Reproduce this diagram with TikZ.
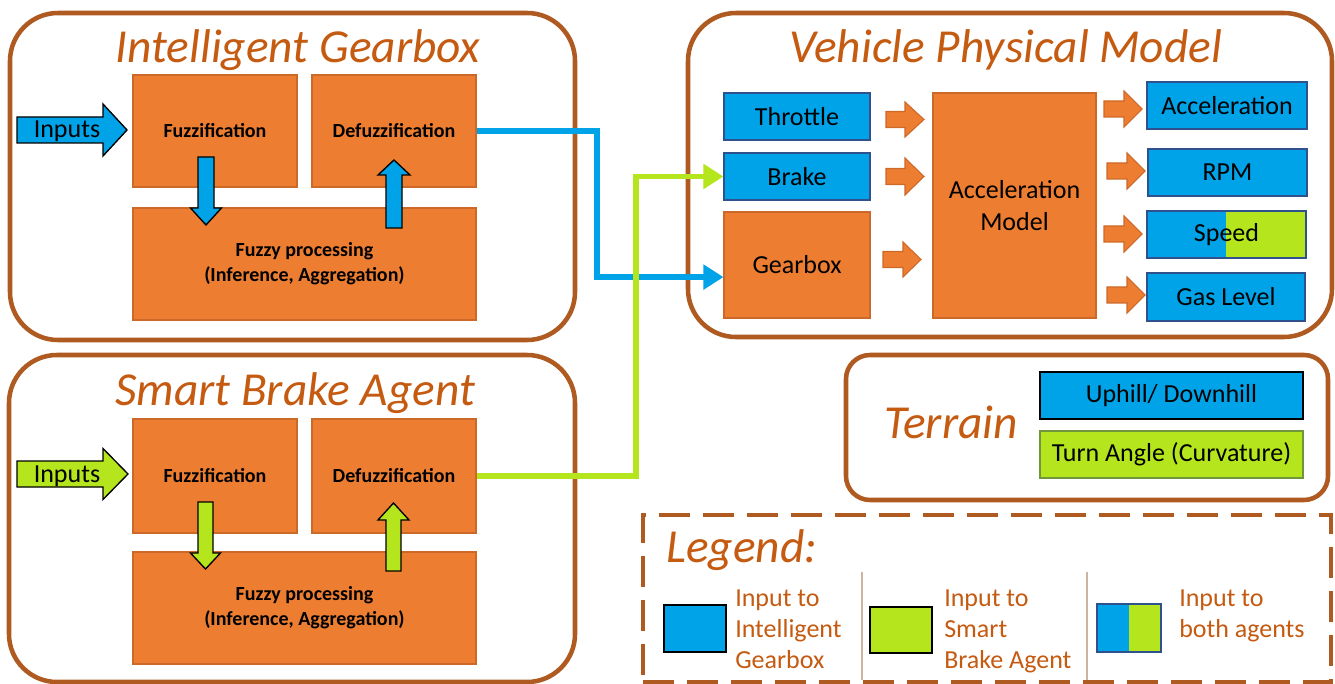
\documentclass[tikz,border=0pt]{standalone}
\usepackage{fontspec}
\setmainfont{Carlito}
\usetikzlibrary{fit,calc,arrows.meta}
\definecolor{orng}{RGB}{237,125,49}
\definecolor{orngdk}{RGB}{205,105,40}
\definecolor{bluec}{RGB}{0,162,232}
\definecolor{bluedk}{RGB}{47,82,143}
\definecolor{greenc}{RGB}{181,230,29}
\definecolor{greendk}{RGB}{112,150,60}
\definecolor{framec}{RGB}{174,90,33}
\definecolor{titlec}{RGB}{197,90,17}
\definecolor{sepc}{RGB}{205,180,160}
% horizontal block arrow: style, x tail, x tip, x head base, y centre, shaft half, head half
\newcommand{\myHArrow}[7]{\draw[#1] ({#2},{#5-#6}) -- ({#4},{#5-#6}) -- ({#4},{#5-#7}) -- ({#3},{#5}) -- ({#4},{#5+#7}) -- ({#4},{#5+#6}) -- ({#2},{#5+#6}) -- cycle;}
% vertical block arrow: style, x centre, y tail, y tip, y head base, shaft half, head half
\newcommand{\myVArrow}[7]{\draw[#1] ({#2-#6},{#3}) -- ({#2-#6},{#5}) -- ({#2-#7},{#5}) -- ({#2},{#4}) -- ({#2+#7},{#5}) -- ({#2+#6},{#5}) -- ({#2+#6},{#3}) -- cycle;}
\begin{document}
\begin{tikzpicture}[x=0.75pt,y=-0.75pt,
 bx/.style n args={4}{minimum width={(#3-#1)*0.75pt},minimum height={(#4-#2)*0.75pt},at={({(#1+#3)/2},{(#2+#4)/2})}},
 frame/.style={draw=framec,line width=3.4pt,rounded corners=36pt,inner sep=0pt},
 tframe/.style={draw=framec,line width=3.4pt,rounded corners=18pt,inner sep=0pt},
 lframe/.style={draw=framec,line width=3.4pt,dash pattern=on 23pt off 10pt,inner sep=0pt},
 ttl/.style={text=titlec,font=\fontsize{35.5}{42}\selectfont\itshape,inner sep=0pt},
 obox/.style={fill=orng,draw=orngdk,line width=0.8pt,inner sep=0pt},
 bbox/.style={fill=bluec,draw=bluedk,line width=0.8pt,inner sep=0pt},
 gbox/.style={fill=greenc,draw=greendk,line width=0.8pt,inner sep=0pt},
 fzt/.style={font=\fontsize{15}{18.75}\selectfont\bfseries,align=center},
 bt/.style={font=\fontsize{19.5}{24}\selectfont,align=center},
 lgt/.style={text=titlec,font=\fontsize{19.5}{23.25}\selectfont,align=left,inner sep=0pt,anchor=north west},
 oarr/.style={fill=orng,draw=orngdk,line width=0.8pt},
 barr/.style={fill=bluec,draw=black,line width=1pt},
 garr/.style={fill=greenc,draw=black,line width=1pt},
 conn/.style={line width=4pt,-{Triangle[length=15pt,width=18pt]}},
 sep/.style={draw=sepc,line width=0.8pt}
]
\useasboundingbox (0,0) rectangle (1335,684);
\fill[white] (0,0) rectangle (1335,684);

% ---------- Intelligent Gearbox ----------
\node[frame,fit={(10,13)(575,340)}] (igf) {};
\node[ttl,anchor=base] (igt) at (298,63) {Intelligent Gearbox};
\node[obox,fzt,bx={133}{75}{297}{187}] (fz1) {Fuzzification};
\node[obox,fzt,bx={312}{75}{476}{187}] (dfz1) {Defuzzification};
\node[obox,fzt,bx={133}{208}{476}{320}] (fp1) {Fuzzy processing\\(Inference, Aggregation)};
\myHArrow{barr}{17}{127}{103}{130}{13}{26}
\node[bt,anchor=base,inner sep=0pt] (in1) at (67,138) {Inputs};
\myVArrow{barr}{206}{157}{225}{208}{8}{15.5}
\myVArrow{barr}{394}{228}{160}{175}{8}{16}

% ---------- Smart Brake Agent ----------
\node[frame,fit={(9,355)(575,682)}] (sbf) {};
\node[ttl,anchor=base] (sbt) at (295,405) {Smart Brake Agent};
\node[obox,fzt,bx={133}{419}{297}{533}] (fz2) {Fuzzification};
\node[obox,fzt,bx={312}{419}{476}{533}] (dfz2) {Defuzzification};
\node[obox,fzt,bx={133}{552}{476}{664}] (fp2) {Fuzzy processing\\(Inference, Aggregation)};
\myHArrow{garr}{17}{128}{103}{474}{13}{25.5}
\node[bt,anchor=base,inner sep=0pt] (in2) at (67,482) {Inputs};
\myVArrow{garr}{205.5}{502}{569}{553}{7.5}{15}
\myVArrow{garr}{393.5}{571}{503}{520}{7.5}{15.5}

% ---------- Vehicle Physical Model ----------
\node[frame,fit={(688,13)(1332,337)}] (vpf) {};
\node[ttl,anchor=base] (vpt) at (1006,63) {Vehicle Physical Model};
\node[bbox,bt,bx={724}{93}{870}{140}] (thr) {Throttle};
\node[bbox,bt,bx={724}{153}{870}{200}] (brk) {Brake};
\node[obox,bt,bx={724}{212}{870}{318}] (gbx) {Gearbox};
\node[obox,bt,bx={933}{93}{1096}{318}] (acm) {Acceleration\\Model};
\node[bbox,bt,bx={1147}{82}{1307}{129}] (acc) {Acceleration};
\node[bbox,bt,bx={1148}{149}{1307}{196}] (rpm) {RPM};
\fill[bluec] (1147,211) rectangle (1226,258);
\fill[greenc] (1226,211) rectangle (1306,258);
\node[draw=bluedk,line width=0.8pt,inner sep=0pt,bt,bx={1147}{211}{1306}{258}] (spd) {Speed};
\node[bbox,bt,bx={1147}{273}{1305}{321}] (gas) {Gas Level};
\myHArrow{oarr}{886}{924}{905}{119.5}{8}{17.5}
\myHArrow{oarr}{886}{924}{905}{176.5}{8}{18.5}
\myHArrow{oarr}{883}{921}{903}{259.5}{8}{17.5}
\myHArrow{oarr}{1104}{1142}{1124}{109}{8}{18}
\myHArrow{oarr}{1107}{1145}{1127}{171}{8}{18}
\myHArrow{oarr}{1104}{1142}{1124}{234}{8}{18}
\myHArrow{oarr}{1107}{1145}{1127}{295}{8}{18}

% ---------- Terrain ----------
\node[tframe,fit={(846,355)(1328,500)}] (trf) {};
\node[ttl,anchor=base] (trt) at (951,438) {Terrain};
\node[fill=bluec,draw=black,line width=0.8pt,inner sep=0pt,bt,bx={1040}{372}{1303}{419}] (uph) {Uphill/ Downhill};
\node[gbox,bt,bx={1040}{431}{1303}{478}] (trn) {Turn Angle (Curvature)};

% ---------- Legend ----------
\node[lframe,fit={(643,515)(1331,682)}] (lgf) {};
\node[ttl,anchor=base west] (lgt) at (666,562) {Legend:};
\node[fill=bluec,draw=black,line width=1pt,inner sep=0pt,fit={(664,605)(726,652)}] (lsq1) {};
\node[lgt] (ltx1) at (735,589.5) {Input to\\Intelligent\\Gearbox};
\draw[sep] (862,572) -- (862,680);
\node[fill=greenc,draw=black,line width=1pt,inner sep=0pt,fit={(870,607)(932,653)}] (lsq2) {};
\node[lgt] (ltx2) at (944,589.5) {Input to\\Smart\\Brake Agent};
\draw[sep] (1087,572) -- (1087,680);
\fill[bluec] (1097,604) rectangle (1129,652);
\fill[greenc] (1129,604) rectangle (1161,652);
\node[draw=bluedk,line width=0.8pt,inner sep=0pt,fit={(1097,604)(1161,652)}] (lsq3) {};
\node[lgt] (ltx3) at (1179,589.5) {Input to\\both agents};

% ---------- connectors ----------
\coordinate (bendB) at (597,0);
\coordinate (bendG) at (636,0);
\coordinate (gbin) at ($(gbx.north west)!0.613!(gbx.south west)$);
\draw[conn,draw=bluec] (dfz1.east) -- (dfz1.east -| bendB) |- (gbin);
\draw[conn,draw=greenc] (dfz2.east) -- (dfz2.east -| bendG) |- (brk.west);
\end{tikzpicture}
\end{document}
